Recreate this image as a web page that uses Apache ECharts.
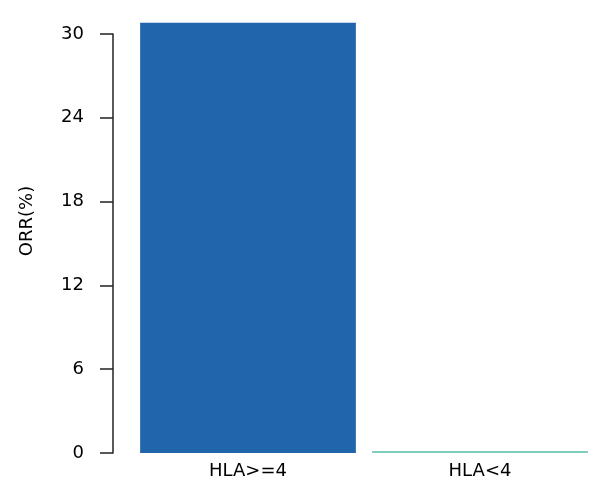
<!DOCTYPE html>
<html>
<head>
<meta charset="utf-8">
<script src="https://cdn.jsdelivr.net/npm/echarts@6/dist/echarts.min.js"></script>
<style>html,body{margin:0;padding:0;background:#fff}#c{width:604px;height:494px}</style>
</head>
<body>
<div id="c"></div>
<script>
const categories = ['HLA>=4', 'HLA<4'];
const orrValues = [30.8, 0];
const barColors = ['#2166ac', '#7fcdbb'];
const yTicks = [0, 6, 12, 18, 24, 30];
const yTitle = 'ORR(%)';

const chart = echarts.init(document.getElementById('c'), null, {renderer: 'canvas'});
const font = 'DejaVu Sans';
chart.setOption({
  animation: false,
  backgroundColor: '#ffffff',
  grid: {left: 132, right: 8, top: 34, bottom: 41, containLabel: false},
  xAxis: {
    type: 'category',
    data: categories,
    axisLine: {show: false},
    axisTick: {show: false},
    axisLabel: {color: '#000', fontFamily: font, fontSize: 18, margin: 9}
  },
  yAxis: {
    type: 'value',
    min: yTicks[0],
    max: yTicks[yTicks.length - 1],
    interval: yTicks[1] - yTicks[0],
    offset: 19,
    splitLine: {show: false},
    axisLine: {show: true, lineStyle: {color: '#222', width: 1.5}},
    axisTick: {show: true, length: 13, lineStyle: {color: '#222', width: 1.5}},
    axisLabel: {color: '#000', fontFamily: font, fontSize: 18, margin: 29}
  },
  graphic: [{
    type: 'text',
    x: 27, y: 221,
    rotation: Math.PI / 2,
    style: {text: yTitle, fontFamily: font, fontSize: 18, fill: '#000', align: 'center', verticalAlign: 'middle'}
  }],
  series: [{
    type: 'bar',
    clip: false,
    barCategoryGap: '7%',
    barMinHeight: 2,
    data: orrValues.map((v, i) => ({value: v, itemStyle: {color: barColors[i]}}))
  }]
});
</script>
</body>
</html>
